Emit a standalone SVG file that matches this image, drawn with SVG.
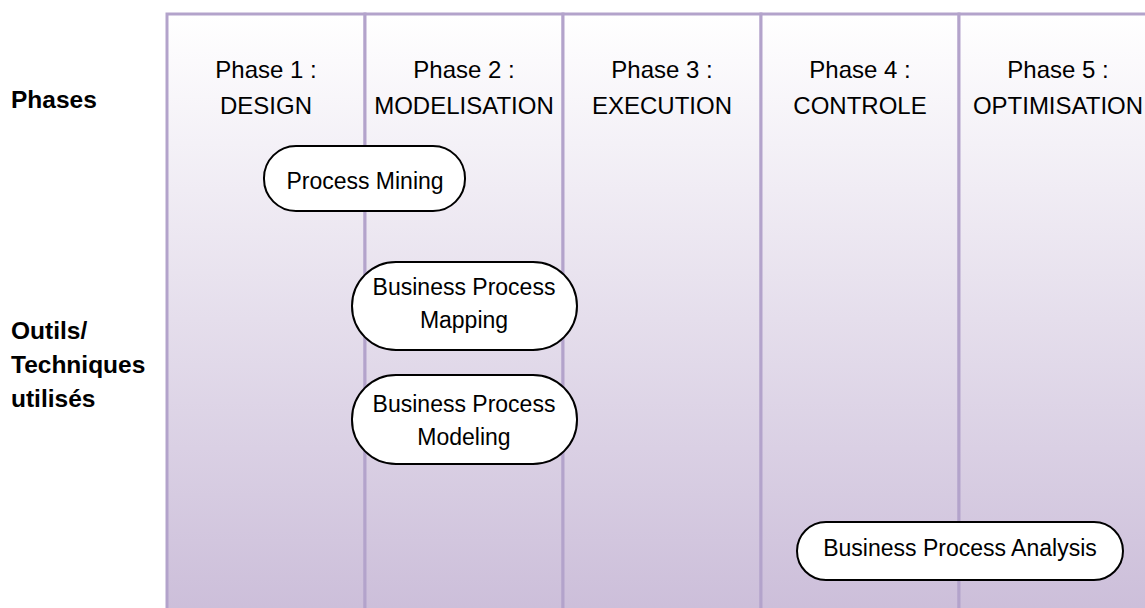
<svg xmlns="http://www.w3.org/2000/svg" width="1145" height="608" viewBox="0 0 1145 608">
<defs>
<linearGradient id="bg" x1="0" y1="0" x2="0" y2="1">
<stop offset="0" stop-color="#ffffff"/>
<stop offset="1" stop-color="#cbbdd9"/>
</linearGradient>
</defs>
<style>
.col{fill:url(#bg);stroke:#b3a3cb;stroke-width:3}
.ph{font-family:"Liberation Sans",Arial,sans-serif;font-size:24px;fill:#000;text-anchor:middle}
.lab{font-family:"Liberation Sans",Arial,sans-serif;font-size:24.5px;font-weight:bold;fill:#000}
.pill{fill:#fff;stroke:#000;stroke-width:2}
.nt{font-family:"Liberation Sans",Arial,sans-serif;font-size:23px;fill:#000;text-anchor:middle}
</style>
<g id="columns">
<rect class="col" x="167" y="14" width="198" height="610"/>
<rect class="col" x="365" y="14" width="198" height="610"/>
<rect class="col" x="563" y="14" width="198" height="610"/>
<rect class="col" x="761" y="14" width="198" height="610"/>
<rect class="col" x="959" y="14" width="198" height="610"/>
</g>
<g id="phase-labels">
<text class="ph" x="266" y="78">Phase 1 :</text>
<text class="ph" x="266" y="114">DESIGN</text>
<text class="ph" x="464" y="78">Phase 2 :</text>
<text class="ph" x="464" y="114">MODELISATION</text>
<text class="ph" x="662" y="78">Phase 3 :</text>
<text class="ph" x="662" y="114">EXECUTION</text>
<text class="ph" x="860" y="78">Phase 4 :</text>
<text class="ph" x="860" y="114">CONTROLE</text>
<text class="ph" x="1058" y="78">Phase 5 :</text>
<text class="ph" x="1058" y="114">OPTIMISATION</text>
</g>
<g id="row-labels">
<text class="lab" x="11" y="108">Phases</text>
<text class="lab" x="11" y="339">Outils/</text>
<text class="lab" x="11" y="373">Techniques</text>
<text class="lab" x="11" y="407">utilisés</text>
</g>
<g id="node-process-mining">
<rect class="pill" x="264" y="146" width="201" height="65" rx="32"/>
<text class="nt" x="365" y="189">Process Mining</text>
</g>
<g id="node-bp-mapping">
<rect class="pill" x="352" y="262" width="225" height="88" rx="44"/>
<text class="nt" x="464" y="295">Business Process</text>
<text class="nt" x="464" y="328">Mapping</text>
</g>
<g id="node-bp-modeling">
<rect class="pill" x="352" y="375" width="225" height="89" rx="44"/>
<text class="nt" x="464" y="412">Business Process</text>
<text class="nt" x="464" y="445">Modeling</text>
</g>
<g id="node-bp-analysis">
<rect class="pill" x="797" y="522" width="326" height="58" rx="29"/>
<text class="nt" x="960" y="556">Business Process Analysis</text>
</g>
<g id="connectors"/>
</svg>
